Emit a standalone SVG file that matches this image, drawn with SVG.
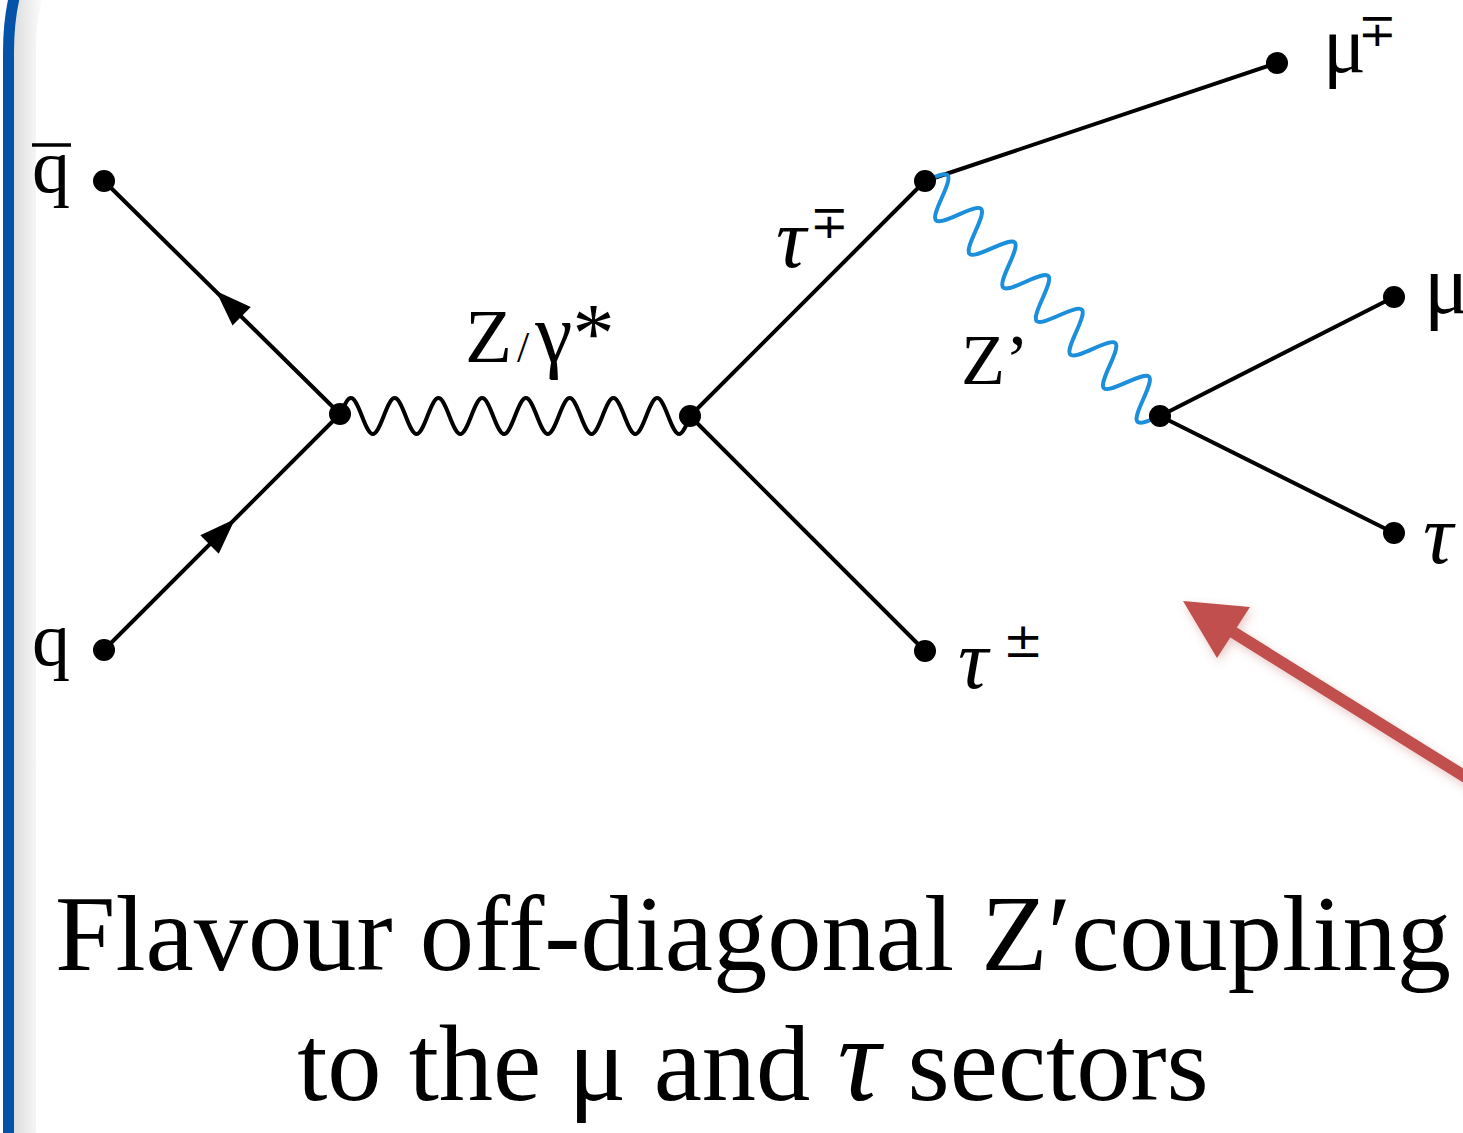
<svg xmlns="http://www.w3.org/2000/svg" width="1463" height="1133" viewBox="0 0 1463 1133">
<style>
.ln{stroke:#000;stroke-width:4;fill:none;stroke-linecap:round}
.dot{fill:#000}
.t{font-family:"Liberation Serif","DejaVu Serif","Times New Roman",serif;fill:#000}
.it{font-style:italic}
.sup{font-family:"DejaVu Serif","Liberation Serif",serif;fill:#000}
</style>
<defs>
<linearGradient id="sh" x1="0" x2="1" y1="0" y2="0">
<stop offset="0" stop-color="#000" stop-opacity="0.14"/>
<stop offset="1" stop-color="#000" stop-opacity="0"/>
</linearGradient>
<filter id="glow" x="-20%" y="-20%" width="140%" height="140%">
<feDropShadow dx="2" dy="4" stdDeviation="5" flood-color="#c0504d" flood-opacity="0.3"/>
</filter>
</defs>
<rect width="1463" height="1133" fill="#fff"/>
<g id="frame">
<path d="M13,1133 L13,52 C13,30 15,12 21,-10 L45,-10 C38,12 36,30 36,52 L36,1133 Z" fill="url(#sh)"/>
<path d="M8.5,1140 L8.5,52 C8.5,30 10,12 16,-10" fill="none" stroke="#0553a9" stroke-width="11"/>
</g>
<g id="connectors">
<line class="ln" x1="340" y1="414" x2="104" y2="181"/>
<line class="ln" x1="104" y1="650" x2="340" y2="414"/>
<path class="ln" d="M340,416 C349.28,392 352.59,392 361.875,416 S374.47,440 383.75,416 S396.34,392 405.625,416 S418.22,440 427.5,416 S440.09,392 449.375,416 S461.97,440 471.25,416 S483.84,392 493.125,416 S505.72,440 515,416 S527.59,392 536.875,416 S549.47,440 558.75,416 S571.34,392 580.625,416 S593.22,440 602.5,416 S615.09,392 624.375,416 S636.97,440 646.25,416 S658.84,392 668.125,416 S680.72,440 690,416"/>
<line class="ln" x1="690" y1="416" x2="925" y2="181"/>
<line class="ln" x1="690" y1="416" x2="925" y2="651"/>
<line class="ln" x1="925" y1="181" x2="1277" y2="63"/>
<path class="ln" style="stroke:#1b8fdb" transform="translate(925,181) rotate(45)" d="M0,0 C10.07,-26.67 13.66,-26.67 23.74,0 S37.4,26.67 47.48,0 S61.14,-26.67 71.22,0 S84.88,26.67 94.96,0 S108.62,-26.67 118.7,0 S132.36,26.67 142.44,0 S156.1,-26.67 166.18,0 S179.84,26.67 189.92,0 S203.58,-26.67 213.66,0 S227.32,26.67 237.4,0 S251.06,-26.67 261.14,0 S274.8,26.67 284.88,0 S298.54,-26.67 308.62,0 S322.28,26.67 332.34,0"/>
<line class="ln" x1="1160" y1="416" x2="1394" y2="297"/>
<line class="ln" x1="1160" y1="416" x2="1394" y2="533"/>
<polygon points="0,0 -36,-13 -36,13" fill="#000" transform="translate(216,291) rotate(-135.4)"/>
<polygon points="0,0 -36,-13 -36,13" fill="#000" transform="translate(235,519) rotate(-45)"/>
</g>
<g id="n-qbar"><circle class="dot" cx="104" cy="181" r="11"/><text class="t" x="32" y="192" font-size="76">q</text><line x1="32" y1="145" x2="71" y2="145" stroke="#000" stroke-width="3.5"/></g>
<g id="n-q"><circle class="dot" cx="104" cy="650" r="11"/><text class="t" x="32" y="665" font-size="76">q</text></g>
<g id="n-v1"><circle class="dot" cx="340" cy="414" r="11"/></g>
<g id="n-v2"><circle class="dot" cx="690" cy="416" r="11"/></g>
<g id="lbl-zg"><text class="t" x="465" y="362" font-size="77">Z<tspan font-size="44" dx="5">/</tspan><tspan dx="6" font-size="84">γ*</tspan></text></g>
<g id="n-v3"><circle class="dot" cx="925" cy="181" r="11"/><text class="t it" x="776" y="267" font-size="84">τ</text><text class="sup" x="810" y="238" font-size="46">∓</text></g>
<g id="n-taupm"><circle class="dot" cx="925" cy="651" r="11"/><text class="t it" x="958" y="688" font-size="84">τ</text><text class="sup" x="1003" y="657" font-size="48">±</text></g>
<g id="n-mump"><circle class="dot" cx="1277" cy="63" r="11"/><text class="t" x="1323" y="72" font-size="80">μ</text><text class="sup" x="1358" y="46" font-size="46">∓</text></g>
<g id="lbl-zp"><text class="t" x="961" y="384" font-size="72">Z’</text></g>
<g id="n-v4"><circle class="dot" cx="1160" cy="416" r="11"/></g>
<g id="n-mu"><circle class="dot" cx="1394" cy="297" r="11"/><text class="t" x="1424" y="313" font-size="84">μ</text></g>
<g id="n-tau"><circle class="dot" cx="1394" cy="533" r="11"/><text class="t it" x="1423" y="563" font-size="84">τ</text></g>
<g id="arrow" filter="url(#glow)">
<line x1="1228" y1="629" x2="1480" y2="786" stroke="#c0504d" stroke-width="12"/>
<polygon points="1183,601 1250,607 1217,658" fill="#c0504d"/>
</g>
<g id="caption">
<text class="t" x="753" y="970" font-size="108.5" text-anchor="middle">Flavour off-diagonal Z′coupling</text>
<text class="t" x="753" y="1100" font-size="108.5" text-anchor="middle">to the μ and <tspan class="it" font-size="120">τ</tspan> sectors</text>
</g>
</svg>
